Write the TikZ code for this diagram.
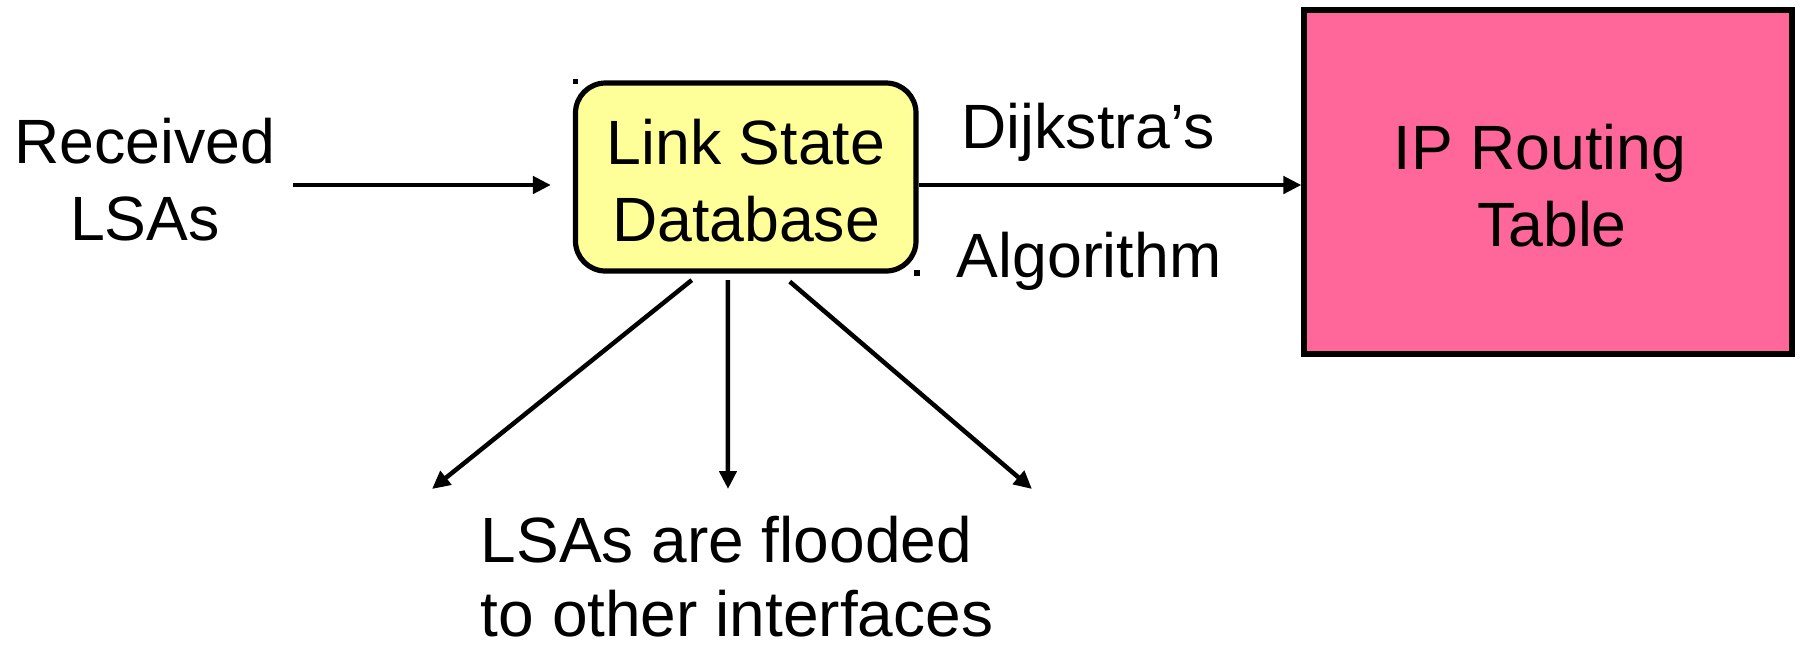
\documentclass[tikz,border=0pt]{standalone}
\usepackage{fontspec}
\setmainfont{Liberation Sans}
\usetikzlibrary{arrows.meta}
\definecolor{dbyellow}{RGB}{255,255,153}
\definecolor{rtpink}{RGB}{255,102,153}
\begin{document}
\begin{tikzpicture}[x=0.5pt,y=-0.5pt,
  every node/.style={font=\fontsize{31.3}{38.5}\selectfont},
  txt/.style={inner sep=0pt, align=center},
  dbbox/.style={draw, line width=2.6pt, rounded corners=15pt, fill=dbyellow,
    minimum width=170.25pt, minimum height=94pt, inner sep=0pt},
  tblbox/.style={draw, line width=2.6pt, fill=rtpink,
    minimum width=244pt, minimum height=172pt, inner sep=0pt},
  flow/.style={line width=2.25pt, -{Triangle[length=9pt,width=8.5pt]}},
  handle/.style={fill=black, inner sep=0pt, minimum size=2.75pt}
]
\useasboundingbox (0,0) rectangle (1800,645);
\coordinate (flowy) at (0,185);

% boxes
\node[dbbox] (lsdb) at (745.75,177) {};
\node[txt] (lsdbtext) at (746,188) {\strut Link State\\\strut Database};
\node[tblbox] (tbl) at (1548,182) {};
\node[txt] (tbltext) at (1540,193) {\strut IP Routing\\\strut\hspace*{0.38em}Table};

% selection handles on the database box
\node[handle] (hnw) at ([shift={(2.6,1.1)}]lsdb.north west) {};
\node[handle] (hse) at ([shift={(-1.6,-0.6)}]lsdb.south east) {};

% labels
\node[txt] (recv) at (145,187) {\strut Received\\\strut LSAs};
\node[txt, anchor=base] (dijk) at (1088,148) {Dijkstra’s};
\node[txt, anchor=base] (algo) at (1089,277) {Algorithm};
\node[txt, align=left, anchor=west, font=\fontsize{32}{36.8}\selectfont] (flood)
  at (480.5,574) {\strut LSAs are flooded\\to other interfaces};

% connectors
\coordinate (lsain) at (293,185);
\draw[flow, shorten >=11pt] (lsain) -- (lsdb.west |- flowy);
\draw[flow] (lsdb.east |- flowy) -- (tbl.west |- flowy);

\coordinate (fl1) at (432,489);
\coordinate (fl2) at (728,489);
\coordinate (fl3) at (1032,489);
\draw[flow] ([shift={(-54,6.5)}]lsdb.south) -- (fl1);
\draw[flow] ([shift={(-18,6.5)}]lsdb.south) -- (fl2);
\draw[flow] ([shift={(44,8)}]lsdb.south) -- (fl3);
\end{tikzpicture}
\end{document}
